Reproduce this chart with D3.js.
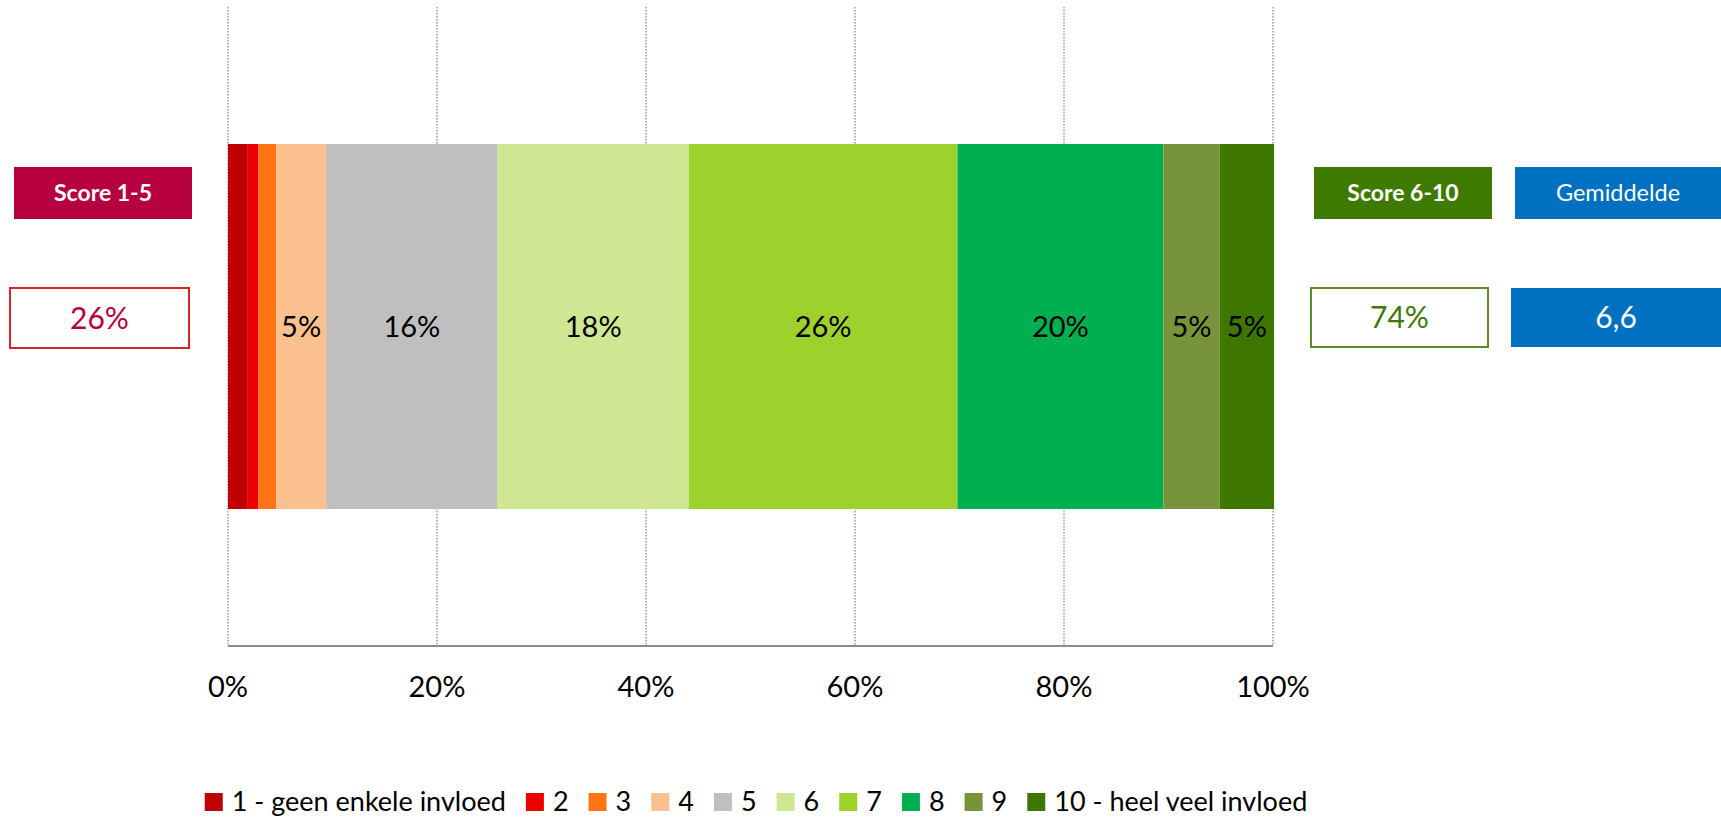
<!DOCTYPE html>
<html>
<head>
<meta charset="utf-8">
<script src="https://cdn.jsdelivr.net/npm/d3@7"></script>
<style>
  body { margin: 0; background: #fff; }
  text { font-family: Lato, "Open Sans", sans-serif; }
</style>
</head>
<body>
<svg width="1721" height="817"></svg>
<script>
'use strict';

// scores 1..10, share of answers (%)
var categories = ['1 - geen enkele invloed', '2', '3', '4', '5', '6', '7', '8', '9', '10 - heel veel invloed'];
var values = [1.9, 1.0, 1.7, 4.8, 16.4, 18.3, 25.7, 19.7, 5.4, 5.2];
var colors = ['#C00000', '#EC0000', '#FF7514', '#FAC090', '#BFBFBF', '#CFE792', '#9DD12C', '#00AF50', '#77933C', '#3E7700'];
var ticks = [0, 20, 40, 60, 80, 100];

var svg = d3.select('svg');
var x = d3.scaleLinear().domain([0, 100]).range([228, 1273]);
var barTop = 144, barBottom = 509, axisY = 646;

// gridlines
svg.selectAll('line.grid')
	.data(ticks).enter()
	.append('line')
	.attr('class', 'grid')
	.attr('x1', function(d){ return x(d); })
	.attr('x2', function(d){ return x(d); })
	.attr('y1', 7)
	.attr('y2', axisY)
	.attr('stroke', '#999')
	.attr('stroke-width', 1.5)
	.attr('stroke-dasharray', '1.5,1.5');

// stacked segments
var start = 0;
var segs = values.map(function(v, i){
	var s = {v: v, x0: start, x1: start + v, c: colors[i]};
	start += v;
	return s;
});

svg.selectAll('rect.seg')
	.data(segs).enter()
	.append('rect')
	.attr('class', 'seg')
	.attr('x', function(d){ return x(d.x0); })
	.attr('width', function(d){ return x(d.x1) - x(d.x0); })
	.attr('y', barTop)
	.attr('height', barBottom - barTop)
	.attr('fill', function(d){ return d.c; });

svg.selectAll('text.seglab')
	.data(segs.filter(function(d){ return d.v >= 3; })).enter()
	.append('text')
	.attr('class', 'seglab')
	.attr('x', function(d){ return (x(d.x0) + x(d.x1)) / 2; })
	.attr('y', (barTop + barBottom) / 2)
	.attr('dy', '0.35em')
	.attr('text-anchor', 'middle')
	.attr('font-size', 29)
	.attr('fill', '#000')
	.text(function(d){ return Math.round(d.v) + '%'; });

// axis
svg.append('line')
	.attr('x1', x(0)).attr('x2', x(100))
	.attr('y1', axisY).attr('y2', axisY)
	.attr('stroke', '#8c8c8c').attr('stroke-width', 2);

svg.selectAll('text.tick')
	.data(ticks).enter()
	.append('text')
	.attr('class', 'tick')
	.attr('x', function(d){ return x(d); })
	.attr('y', 687)
	.attr('dy', '0.35em')
	.attr('text-anchor', 'middle')
	.attr('font-size', 29)
	.text(function(d){ return d + '%'; });

// summary boxes
var low = d3.sum(values.slice(0, 5));
var high = d3.sum(values.slice(5));
var mean = d3.sum(values, function(v, i){ return v * (i + 1); }) / d3.sum(values);

function box(x0, y0, w, h, fill, stroke, label, color, size, weight){
	svg.append('rect')
		.attr('x', x0).attr('y', y0).attr('width', w).attr('height', h)
		.attr('fill', fill)
		.attr('stroke', stroke || 'none')
		.attr('stroke-width', stroke ? 2 : 0);
	svg.append('text')
		.attr('x', x0 + w / 2).attr('y', y0 + h / 2)
		.attr('dy', '0.35em')
		.attr('text-anchor', 'middle')
		.attr('font-size', size)
		.attr('font-weight', weight || 'normal')
		.attr('fill', color)
		.text(label);
}

box(14, 167, 178, 52, '#B60040', null, 'Score 1-5', '#fff', 23, 'bold');
box(10, 288, 179, 60, '#fff', '#D42525', Math.round(low) + '%', '#B60040', 30);
box(1314, 167, 178, 52, '#3F7A00', null, 'Score 6-10', '#fff', 23, 'bold');
box(1515, 167, 206, 52, '#0070C0', null, 'Gemiddelde', '#fff', 23.5);
box(1311, 288, 177, 59, '#fff', '#5A8F28', Math.round(high) + '%', '#3F7A00', 30);
box(1511, 288, 210, 59, '#0070C0', null, mean.toFixed(1).replace('.', ','), '#fff', 30);

// legend
var legY = 802;
var leg = svg.append('g');
var items = leg.selectAll('g')
	.data(categories).enter()
	.append('g');
items.append('rect')
	.attr('width', 18).attr('height', 18)
	.attr('y', legY - 9)
	.attr('fill', function(d, i){ return colors[i]; });
items.append('text')
	.attr('x', 27)
	.attr('y', legY)
	.attr('dy', '0.35em')
	.attr('font-size', 27)
	.text(function(d){ return d; });

var pos = 0;
items.each(function(){
	var w = d3.select(this).select('text').node().getComputedTextLength();
	d3.select(this).attr('transform', 'translate(' + pos + ',0)');
	pos += 27 + w + 20;
});
var total = pos - 20;
leg.attr('transform', 'translate(' + (756 - total / 2) + ',0)');
</script>
</body>
</html>
